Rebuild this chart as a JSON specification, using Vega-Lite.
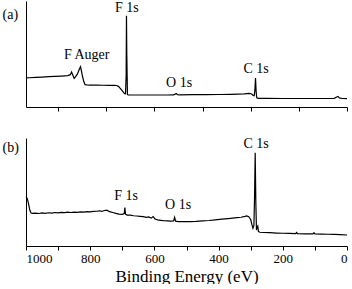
{
  "$schema": "https://vega.github.io/schema/vega-lite/v6.json",
  "padding": {"left": 2, "top": 1, "right": 2, "bottom": 0},
  "config": {
    "view": {"stroke": null},
    "axis": {"domainColor": "black", "tickColor": "black", "labelColor": "black", "titleColor": "black", "grid": false, "titleFontWeight": "normal"}
  },
  "spacing": 25,
  "datasets": {
    "a": [
      {"energy": 1000, "intensity": 27.4}, {"energy": 990, "intensity": 27.6}, {"energy": 970, "intensity": 27.9},
      {"energy": 950, "intensity": 28.2}, {"energy": 930, "intensity": 28.6}, {"energy": 910, "intensity": 28.9},
      {"energy": 890, "intensity": 29.2}, {"energy": 870, "intensity": 29.6}, {"energy": 862, "intensity": 30.5},
      {"energy": 858, "intensity": 33}, {"energy": 854, "intensity": 30}, {"energy": 850, "intensity": 27},
      {"energy": 846, "intensity": 28.5}, {"energy": 840, "intensity": 31}, {"energy": 836, "intensity": 34},
      {"energy": 832, "intensity": 37}, {"energy": 830, "intensity": 38}, {"energy": 828, "intensity": 35},
      {"energy": 824, "intensity": 29}, {"energy": 820, "intensity": 24}, {"energy": 816, "intensity": 21},
      {"energy": 810, "intensity": 20.8}, {"energy": 800, "intensity": 20.7}, {"energy": 780, "intensity": 20.6},
      {"energy": 760, "intensity": 20.5}, {"energy": 740, "intensity": 20.4}, {"energy": 725, "intensity": 20.5},
      {"energy": 718, "intensity": 20.3}, {"energy": 712, "intensity": 19.5}, {"energy": 705, "intensity": 17},
      {"energy": 698, "intensity": 14.5}, {"energy": 693, "intensity": 12.6}, {"energy": 690, "intensity": 12.4},
      {"energy": 688, "intensity": 30}, {"energy": 687, "intensity": 86}, {"energy": 686, "intensity": 50},
      {"energy": 684, "intensity": 12}, {"energy": 682, "intensity": 11.4}, {"energy": 670, "intensity": 11.3},
      {"energy": 640, "intensity": 11.3}, {"energy": 600, "intensity": 11.3}, {"energy": 560, "intensity": 11.3},
      {"energy": 540, "intensity": 11.4}, {"energy": 534, "intensity": 12.4}, {"energy": 531, "intensity": 12.6},
      {"energy": 528, "intensity": 11.6}, {"energy": 520, "intensity": 11.5}, {"energy": 480, "intensity": 11.6},
      {"energy": 440, "intensity": 11.7}, {"energy": 400, "intensity": 11.8}, {"energy": 360, "intensity": 12.0},
      {"energy": 320, "intensity": 12.4}, {"energy": 305, "intensity": 12.8}, {"energy": 297, "intensity": 12.3},
      {"energy": 292, "intensity": 10.9}, {"energy": 289, "intensity": 10.6}, {"energy": 287, "intensity": 16},
      {"energy": 285, "intensity": 27.4}, {"energy": 283, "intensity": 14}, {"energy": 281, "intensity": 8.6},
      {"energy": 276, "intensity": 8.2}, {"energy": 250, "intensity": 8.1}, {"energy": 200, "intensity": 8.0},
      {"energy": 150, "intensity": 8.0}, {"energy": 100, "intensity": 8.0}, {"energy": 60, "intensity": 8.0},
      {"energy": 40, "intensity": 8.2}, {"energy": 32, "intensity": 9.5}, {"energy": 28, "intensity": 10},
      {"energy": 24, "intensity": 8.6}, {"energy": 15, "intensity": 8.0}, {"energy": 0, "intensity": 7.9}
    ],
    "b": [
      {"energy": 1000, "intensity": 45.6}, {"energy": 996, "intensity": 44}, {"energy": 992, "intensity": 39},
      {"energy": 988, "intensity": 33}, {"energy": 984, "intensity": 30.5}, {"energy": 980, "intensity": 30.2},
      {"energy": 970, "intensity": 30.4}, {"energy": 960, "intensity": 30.1}, {"energy": 950, "intensity": 30.6},
      {"energy": 940, "intensity": 30.3}, {"energy": 930, "intensity": 30.8}, {"energy": 920, "intensity": 30.5},
      {"energy": 910, "intensity": 31.0}, {"energy": 900, "intensity": 30.7}, {"energy": 890, "intensity": 31.2},
      {"energy": 880, "intensity": 30.9}, {"energy": 870, "intensity": 31.3}, {"energy": 860, "intensity": 31.0},
      {"energy": 850, "intensity": 31.4}, {"energy": 840, "intensity": 31.2}, {"energy": 830, "intensity": 31.6},
      {"energy": 820, "intensity": 31.4}, {"energy": 810, "intensity": 31.8}, {"energy": 800, "intensity": 31.6},
      {"energy": 790, "intensity": 32.0}, {"energy": 780, "intensity": 32.2}, {"energy": 770, "intensity": 32.6},
      {"energy": 764, "intensity": 32.0}, {"energy": 756, "intensity": 32.9}, {"energy": 748, "intensity": 33.2},
      {"energy": 740, "intensity": 31.8}, {"energy": 730, "intensity": 31.0}, {"energy": 720, "intensity": 30.2},
      {"energy": 710, "intensity": 29.6}, {"energy": 700, "intensity": 29.3}, {"energy": 694, "intensity": 30.0},
      {"energy": 692, "intensity": 35.5}, {"energy": 690, "intensity": 29.5}, {"energy": 685, "intensity": 28.6},
      {"energy": 675, "intensity": 28.6}, {"energy": 665, "intensity": 28.0}, {"energy": 655, "intensity": 27.8},
      {"energy": 645, "intensity": 27.5}, {"energy": 635, "intensity": 27.2}, {"energy": 625, "intensity": 26.5},
      {"energy": 618, "intensity": 26.9}, {"energy": 610, "intensity": 25.8}, {"energy": 604, "intensity": 27.2},
      {"energy": 598, "intensity": 25.0}, {"energy": 590, "intensity": 24.2}, {"energy": 580, "intensity": 23.8},
      {"energy": 570, "intensity": 23.4}, {"energy": 560, "intensity": 23.2}, {"energy": 550, "intensity": 23.0},
      {"energy": 540, "intensity": 23.3}, {"energy": 537, "intensity": 26.6}, {"energy": 534, "intensity": 23.0},
      {"energy": 525, "intensity": 22.6}, {"energy": 510, "intensity": 22.5}, {"energy": 490, "intensity": 22.6},
      {"energy": 470, "intensity": 22.8}, {"energy": 450, "intensity": 23.2}, {"energy": 430, "intensity": 23.6},
      {"energy": 410, "intensity": 24.2}, {"energy": 390, "intensity": 24.8}, {"energy": 370, "intensity": 25.4},
      {"energy": 350, "intensity": 26.0}, {"energy": 330, "intensity": 26.6}, {"energy": 318, "intensity": 27.4},
      {"energy": 312, "intensity": 27.9}, {"energy": 306, "intensity": 27.2}, {"energy": 300, "intensity": 24.5},
      {"energy": 296, "intensity": 19.5}, {"energy": 293, "intensity": 16.4}, {"energy": 290, "intensity": 19},
      {"energy": 288, "intensity": 45}, {"energy": 286, "intensity": 86.4}, {"energy": 284, "intensity": 40},
      {"energy": 282, "intensity": 14.8}, {"energy": 280, "intensity": 17.5}, {"energy": 278, "intensity": 18.5},
      {"energy": 276, "intensity": 13.5}, {"energy": 272, "intensity": 12.7}, {"energy": 260, "intensity": 12.5},
      {"energy": 240, "intensity": 12.3}, {"energy": 220, "intensity": 12.0}, {"energy": 200, "intensity": 11.8},
      {"energy": 180, "intensity": 11.6}, {"energy": 160, "intensity": 11.5}, {"energy": 157, "intensity": 12.5},
      {"energy": 154, "intensity": 11.5}, {"energy": 130, "intensity": 11.3}, {"energy": 106, "intensity": 11.2},
      {"energy": 103, "intensity": 12.3}, {"energy": 100, "intensity": 11.2}, {"energy": 80, "intensity": 11.0},
      {"energy": 60, "intensity": 10.9}, {"energy": 40, "intensity": 10.7}, {"energy": 20, "intensity": 10.5},
      {"energy": 0, "intensity": 10.2}
    ],
    "labels": [
      {"panel": "a", "energy": 686, "intensity": 89.5, "label": "F 1s"},
      {"panel": "a", "energy": 811, "intensity": 44.9, "label": "F Auger"},
      {"panel": "a", "energy": 523, "intensity": 19.2, "label": "O 1s"},
      {"panel": "a", "energy": 283, "intensity": 32.2, "label": "C 1s"},
      {"panel": "b", "energy": 688, "intensity": 42.6, "label": "F 1s"},
      {"panel": "b", "energy": 526, "intensity": 33.8, "label": "O 1s"},
      {"panel": "b", "energy": 283, "intensity": 90.5, "label": "C 1s"}
    ]
  },
  "vconcat": [
    {
      "width": 321,
      "height": 106,
      "encoding": {
        "x": {"field": "energy", "type": "quantitative", "scale": {"domain": [0, 1000], "reverse": true, "nice": false},
              "axis": {"values": [0, 150, 300, 450, 600, 750, 900], "labels": false, "title": null, "tickSize": 4}},
        "y": {"field": "intensity", "type": "quantitative", "scale": {"domain": [0, 100], "nice": false},
              "axis": {"labels": false, "ticks": false, "title": "(a)", "titleFont": "Liberation Serif", "titleAngle": 0, "titleX": -24, "titleY": 13,
                       "titleAlign": "left", "titleBaseline": "middle", "titleFontSize": 14}}
      },
      "layer": [
        {"data": {"name": "a"}, "mark": {"type": "line", "color": "black", "strokeWidth": 1.2}},
        {"data": {"name": "labels"}, "transform": [{"filter": "datum.panel === 'a'"}],
         "mark": {"type": "text", "align": "center", "baseline": "alphabetic", "fontSize": 14, "font": "Liberation Serif", "color": "black"},
         "encoding": {"text": {"field": "label"}}}
      ]
    },
    {
      "width": 321,
      "height": 108,
      "encoding": {
        "x": {"field": "energy", "type": "quantitative", "scale": {"domain": [0, 1000], "reverse": true, "nice": false},
              "axis": {"values": [0, 100, 200, 300, 400, 500, 600, 700, 800, 900, 1000], "format": "d", "labelExpr": "datum.value % 200 === 0 ? datum.label : ''",
                       "tickSize": 4, "labelFont": "Liberation Serif", "labelFontSize": 13, "labelPadding": 2, "title": "Binding Energy (eV)", "titleFont": "Liberation Serif", "titleFontSize": 17, "titlePadding": 3}},
        "y": {"field": "intensity", "type": "quantitative", "scale": {"domain": [0, 100], "nice": false},
              "axis": {"labels": false, "ticks": false, "title": "(b)", "titleFont": "Liberation Serif", "titleAngle": 0, "titleX": -24, "titleY": 9,
                       "titleAlign": "left", "titleBaseline": "middle", "titleFontSize": 14}}
      },
      "layer": [
        {"data": {"name": "b"}, "mark": {"type": "line", "color": "black", "strokeWidth": 1.2}},
        {"data": {"name": "labels"}, "transform": [{"filter": "datum.panel === 'b'"}],
         "mark": {"type": "text", "align": "center", "baseline": "alphabetic", "fontSize": 14, "font": "Liberation Serif", "color": "black"},
         "encoding": {"text": {"field": "label"}}}
      ]
    }
  ]
}
